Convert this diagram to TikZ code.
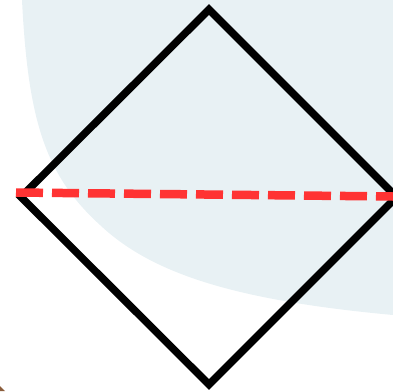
\documentclass[tikz,border=0pt]{standalone}
\usepackage{tikz}
\usetikzlibrary{calc}
\usepackage[svgnames,table]{xcolor}
\definecolor{blobblue}{HTML}{E8F1F4}
\definecolor{cutred}{HTML}{FF3333}
\definecolor{cornerbrown}{HTML}{8B5E3C}

\begin{document}
\begin{tikzpicture}[x=1pt, y=-1pt]
            \useasboundingbox (0,0) rectangle (393,391);
            % Latar belakang
            \fill[blobblue] (22,0) .. controls (28,120) and (45,175) .. (100,225) .. controls (150,272) and (230,300) .. (393,315) -- (393,0) -- cycle;
            \fill[cornerbrown] (0,386) -- (5,391) -- (0,391) -- cycle;

            % Belah ketupat
            \coordinate (atas) at (209,9.5);
            \coordinate (kiri) at (21,197);
            \coordinate (bawah) at (209,384.5);
            \coordinate (kanan) at (396.5,197);
            \draw[line width=7.5pt, miter limit=10] (atas) -- (kanan) -- (bawah) -- (kiri) -- cycle;

            % Garis potong
            \coordinate (potongA) at (16,192.5);
            \coordinate (potongB) at (393,196.5);
            \draw[cutred, line width=8.5pt, dash pattern=on 27pt off 9pt] (potongA) -- (potongB);
        \end{tikzpicture}
\end{document}
